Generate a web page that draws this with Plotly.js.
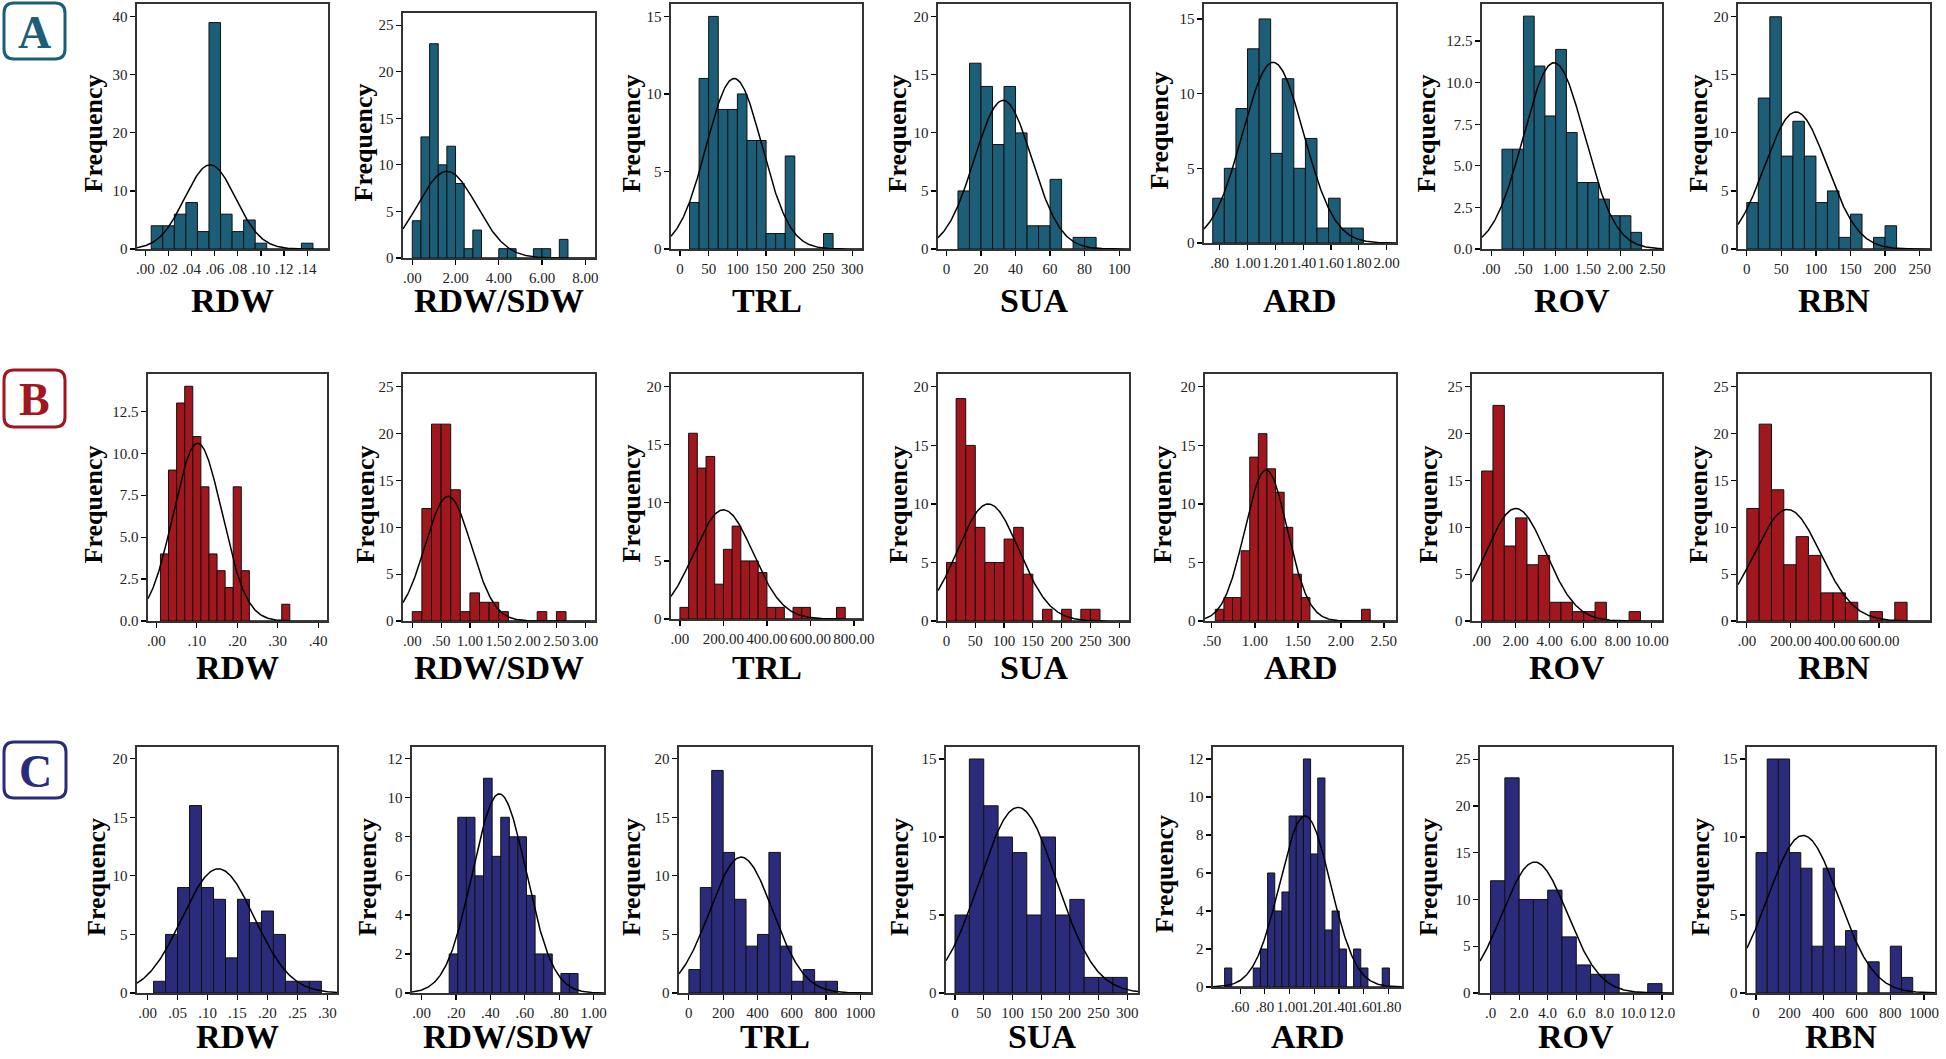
<!DOCTYPE html>
<html><head><meta charset="utf-8">
<script src="https://cdn.plot.ly/plotly-3.0.1.min.js"></script>
<style>html,body{margin:0;padding:0;background:#fff;}#chart{width:1946px;height:1059px;}</style>
</head><body><div id="chart"></div>
<script>
// ---------------- DATA ----------------
const variables = ['RDW', 'RDW/SDW', 'TRL', 'SUA', 'ARD', 'ROV', 'RBN'];
const groupLabels = ['A', 'B', 'C'];

// Group A: bin counts per variable
const countsA = [
  [4, 4, 6, 8, 3, 39, 6, 3, 5, 1, 0, 0, 0, 1],
  [4, 13, 23, 10, 12, 8, 1, 3, 0, 0, 1, 1, 0, 0, 1, 1, 0, 2],
  [3, 11, 15, 9, 9, 10, 7, 7, 1, 1, 6, 0, 0, 0, 1],
  [5, 16, 14, 9, 14, 10, 2, 2, 6, 0, 1, 1],
  [3, 5, 9, 13, 15, 6, 11, 5, 7, 1, 3, 1, 1],
  [6, 6, 14, 11, 8, 12, 7, 4, 4, 3, 2, 2, 1],
  [4, 13, 20, 8, 11, 8, 4, 5, 1, 3, 0, 1, 2]
];
const binStartA = [0.005, 0, 16.667, 6.667, 0.75, 0.1667, 0];
const binWidthA = [0.01, 0.4, 16.667, 6.667, 0.0833, 0.1667, 16.667];
const curveMeanA = [0.056, 1.6, 94.4, 32.8, 1.184, 0.974, 71];
const curvePeakA = [14.5, 9.3, 11.0, 12.8, 12.1, 11.2, 11.8];
const xTickValsA = [
  [0, 0.02, 0.04, 0.06, 0.08, 0.10, 0.12, 0.14],
  [0, 2, 4, 6, 8],
  [0, 50, 100, 150, 200, 250, 300],
  [0, 20, 40, 60, 80, 100],
  [0.8, 1.0, 1.2, 1.4, 1.6, 1.8, 2.0],
  [0, 0.5, 1.0, 1.5, 2.0, 2.5],
  [0, 50, 100, 150, 200, 250]
];
const xTickTextA = [
  ['.00', '.02', '.04', '.06', '.08', '.10', '.12', '.14'],
  ['.00', '2.00', '4.00', '6.00', '8.00'],
  ['0', '50', '100', '150', '200', '250', '300'],
  ['0', '20', '40', '60', '80', '100'],
  ['.80', '1.00', '1.20', '1.40', '1.60', '1.80', '2.00'],
  ['.00', '.50', '1.00', '1.50', '2.00', '2.50'],
  ['0', '50', '100', '150', '200', '250']
];

// Group B
const countsB = [
  [4, 9, 13, 14, 11, 8, 4, 3, 2, 8, 3, 0, 0, 0, 0, 1],
  [1, 12, 21, 21, 14, 1, 3, 2, 2, 1, 0, 0, 0, 1, 0, 1],
  [1, 16, 13, 14, 3, 6, 8, 5, 5, 4, 1, 1, 0, 1, 1, 0, 0, 0, 1],
  [5, 19, 15, 8, 5, 5, 7, 8, 4, 0, 1, 0, 1, 0, 1, 1],
  [1, 2, 2, 6, 14, 16, 13, 11, 8, 4, 2, 0, 0, 0, 0, 0, 0, 1],
  [16, 23, 8, 11, 6, 7, 2, 2, 1, 1, 2, 0, 0, 1],
  [12, 21, 14, 6, 9, 7, 3, 3, 2, 0, 1, 0, 2]
];
const binStartB = [0.01, 0, 0, 0, 0.54, 0, 0];
const binWidthB = [0.02, 0.1667, 40, 16.667, 0.1, 0.6667, 56];
const curveMeanB = [0.102, 0.622, 200, 72.6, 1.13, 2.01, 185];
const curvePeakB = [10.6, 13.3, 9.4, 10.0, 12.9, 12.0, 11.9];
const xTickValsB = [
  [0, 0.1, 0.2, 0.3, 0.4],
  [0, 0.5, 1.0, 1.5, 2.0, 2.5, 3.0],
  [0, 200, 400, 600, 800],
  [0, 50, 100, 150, 200, 250, 300],
  [0.5, 1.0, 1.5, 2.0, 2.5],
  [0, 2, 4, 6, 8, 10],
  [0, 200, 400, 600]
];
const xTickTextB = [
  ['.00', '.10', '.20', '.30', '.40'],
  ['.00', '.50', '1.00', '1.50', '2.00', '2.50', '3.00'],
  ['.00', '200.00', '400.00', '600.00', '800.00'],
  ['0', '50', '100', '150', '200', '250', '300'],
  ['.50', '1.00', '1.50', '2.00', '2.50'],
  ['.00', '2.00', '4.00', '6.00', '8.00', '10.00'],
  ['.00', '200.00', '400.00', '600.00']
];

// Group C
const countsC = [
  [1, 5, 9, 16, 9, 8, 3, 8, 6, 7, 5, 1, 1, 1],
  [2, 9, 9, 6, 11, 7, 9, 8, 8, 5, 2, 2, 0, 1, 1],
  [2, 9, 19, 12, 8, 4, 5, 12, 4, 1, 2, 1, 1],
  [5, 15, 12, 10, 9, 5, 10, 5, 6, 1, 1, 1],
  [1, 0, 0, 0, 1, 2, 6, 4, 5, 9, 9, 12, 7, 11, 3, 4, 2, 0, 2, 1, 0, 0, 1],
  [12, 23, 10, 10, 11, 6, 3, 2, 2, 0, 0, 1],
  [9, 15, 15, 9, 8, 3, 8, 3, 4, 0, 2, 0, 3, 1]
];
const binStartC = [0.01, 0.16, 0, 0, 0.474, 0, 0];
const binWidthC = [0.02, 0.05, 66.667, 25, 0.058, 1, 66.667];
const curveMeanC = [0.118, 0.452, 305, 109.7, 1.125, 3.09, 280];
const curvePeakC = [10.6, 10.2, 11.6, 11.9, 9.0, 14.0, 10.1];
const xTickValsC = [
  [0, 0.05, 0.10, 0.15, 0.20, 0.25, 0.30],
  [0, 0.2, 0.4, 0.6, 0.8, 1.0],
  [0, 200, 400, 600, 800, 1000],
  [0, 50, 100, 150, 200, 250, 300],
  [0.6, 0.8, 1.0, 1.2, 1.4, 1.6, 1.8],
  [0, 2, 4, 6, 8, 10, 12],
  [0, 200, 400, 600, 800, 1000]
];
const xTickTextC = [
  ['.00', '.05', '.10', '.15', '.20', '.25', '.30'],
  ['.00', '.20', '.40', '.60', '.80', '1.00'],
  ['0', '200', '400', '600', '800', '1000'],
  ['0', '50', '100', '150', '200', '250', '300'],
  ['.60', '.80', '1.00', '1.20', '1.40', '1.60', '1.80'],
  ['.0', '2.0', '4.0', '6.0', '8.0', '10.0', '12.0'],
  ['0', '200', '400', '600', '800', '1000']
];

// ---------------- LAYOUT / STYLE ----------------
const W = 1946, H = 1059;
const groupColors = ['#1c5e77', '#a1171d', '#2a2b7b'];

// panel frames in px: [left, right, top, bottom]
const framesPx = [
  [[137, 328, 4, 249], [403, 595, 13, 258], [671, 862, 4, 249], [938, 1129, 4, 249], [1204, 1396, 4, 243], [1482, 1662, 4, 249], [1738, 1930, 4, 249]],
  [[148, 327, 374, 621], [403, 595, 374, 621], [671, 862, 374, 619], [938, 1129, 374, 621], [1205, 1396, 374, 621], [1472, 1662, 374, 621], [1738, 1930, 374, 621]],
  [[137, 337, 747, 993], [412, 604, 747, 993], [679, 871, 747, 993], [946, 1138, 747, 993], [1213, 1402, 747, 987], [1480, 1672, 747, 993], [1747, 1935, 747, 993]]
];
const xRanges = [
  [[-0.0073, 0.158], [-0.43, 8.45], [-15.6, 317], [-4.9, 105.7], [0.687, 2.068], [-0.143, 2.65], [-12.7, 265]],
  [[-0.0208, 0.422], [-0.161, 3.17], [-41, 837], [-14.8, 317], [0.42, 2.64], [-0.565, 10.6], [-40, 832]],
  [[-0.0176, 0.316], [-0.0565, 1.061], [-57.5, 1062], [-15.7, 318.7], [0.38, 1.91], [-0.74, 12.7], [-53.7, 1066]]
];
const yTops = [
  [42.2, 26.3, 15.8, 21.1, 16.0, 14.73, 21.1],
  [14.73, 26.35, 21.1, 21.1, 21.1, 26.35, 26.35],
  [21.0, 12.6, 21.0, 15.77, 12.63, 26.3, 15.77]
];
const yDticks = [
  [10, 5, 5, 5, 5, 2.5, 5],
  [2.5, 5, 5, 5, 5, 5, 5],
  [5, 2, 5, 5, 2, 5, 5]
];
const freqOffsets = [
  [44, 40, 40, 41, 45, 56, 40],
  [55, 38, 40, 40, 43, 44, 40],
  [41, 45, 48, 47, 49, 52, 47]
];
const titleY = [300, 667, 1036];
const badgesPx = [[4, 65, 3, 59], [4, 65, 370, 427], [4, 66, 742, 798]];

const allCounts = [countsA, countsB, countsC];
const allStart = [binStartA, binStartB, binStartC];
const allWidth = [binWidthA, binWidthB, binWidthC];
const allMean = [curveMeanA, curveMeanB, curveMeanC];
const allPeak = [curvePeakA, curvePeakB, curvePeakC];
const allTickVals = [xTickValsA, xTickValsB, xTickValsC];
const allTickText = [xTickTextA, xTickTextB, xTickTextC];

const px2x = p => p / W;
const px2y = p => 1 - p / H;

const traces = [];
const layout = {
  width: W, height: H,
  margin: {l: 0, r: 0, t: 0, b: 0},
  paper_bgcolor: '#fff', plot_bgcolor: '#fff',
  showlegend: false, bargap: 0,
  annotations: [], shapes: []
};
const tickFont = {family: 'Liberation Serif, Times New Roman, serif', size: 15, color: '#222'};
const boldSerif = 'Liberation Serif, Times New Roman, serif';

let k = 0;
for (let g = 0; g < 3; g++) {
  for (let v = 0; v < 7; v++) {
    k++;
    const xid = k === 1 ? 'x' : 'x' + k;
    const yid = k === 1 ? 'y' : 'y' + k;
    const xkey = k === 1 ? 'xaxis' : 'xaxis' + k;
    const ykey = k === 1 ? 'yaxis' : 'yaxis' + k;
    const counts = allCounts[g][v];
    const start = allStart[g][v];
    const bw = allWidth[g][v];
    const fr = framesPx[g][v];
    const xr = xRanges[g][v];

    traces.push({
      type: 'bar', xaxis: xid, yaxis: yid,
      x: counts.map((_, i) => start + bw * (i + 0.5)),
      y: counts, width: bw,
      marker: {color: groupColors[g], line: {color: '#111', width: 1}},
      hoverinfo: 'x+y'
    });

    // fitted normal curve
    const n = counts.reduce((a, b) => a + b, 0);
    const peak = allPeak[g][v];
    const mean = allMean[g][v];
    const sd = n * bw / (peak * Math.sqrt(2 * Math.PI));
    const cx = [], cy = [];
    const steps = 300;
    for (let i = 0; i <= steps; i++) {
      const xv = xr[0] + (xr[1] - xr[0]) * i / steps;
      cx.push(xv);
      cy.push(peak * Math.exp(-0.5 * Math.pow((xv - mean) / sd, 2)));
    }
    traces.push({
      type: 'scatter', mode: 'lines', xaxis: xid, yaxis: yid,
      x: cx, y: cy, line: {color: '#000', width: 1.5}, hoverinfo: 'skip'
    });

    layout[xkey] = {
      domain: [px2x(fr[0]), px2x(fr[1])], range: xr, anchor: yid,
      tickmode: 'array', tickvals: allTickVals[g][v], ticktext: allTickText[g][v],
      tickangle: 0,
      ticks: 'outside', ticklen: 5, tickwidth: 1.2, tickcolor: '#000',
      showline: true, linecolor: '#333', linewidth: 1.6, mirror: true,
      showgrid: false, zeroline: false, tickfont: tickFont, fixedrange: true
    };
    layout[ykey] = {
      domain: [px2y(fr[3]), px2y(fr[2])], range: [0, yTops[g][v]], anchor: xid,
      tick0: 0, dtick: yDticks[g][v], tickformat: (yDticks[g][v] === 2.5 ? '.1f' : 'd'),
      ticks: 'outside', ticklen: 5, tickwidth: 1.2, tickcolor: '#000',
      showline: true, linecolor: '#333', linewidth: 1.6, mirror: true,
      showgrid: false, zeroline: false, tickfont: tickFont, fixedrange: true
    };

    // variable title
    layout.annotations.push({
      xref: 'paper', yref: 'paper',
      x: px2x((fr[0] + fr[1]) / 2), y: px2y(titleY[g]),
      xanchor: 'center', yanchor: 'middle', showarrow: false,
      text: '<b>' + variables[v] + '</b>',
      font: {family: boldSerif, size: 34, color: '#000'}
    });
    // Frequency label
    layout.annotations.push({
      xref: 'paper', yref: 'paper',
      x: px2x(fr[0] - freqOffsets[g][v]), y: px2y((fr[2] + fr[3]) / 2 + 7),
      xanchor: 'center', yanchor: 'middle', showarrow: false, textangle: -90,
      text: '<b>Frequency</b>',
      font: {family: boldSerif, size: 26, color: '#000'}
    });
  }

  // group badge
  const b = badgesPx[g];
  const r = 10;
  const X = p => px2x(p), Y = p => px2y(p);
  const path = `M ${X(b[0] + r)} ${Y(b[2])} L ${X(b[1] - r)} ${Y(b[2])} Q ${X(b[1])} ${Y(b[2])} ${X(b[1])} ${Y(b[2] + r)} ` +
    `L ${X(b[1])} ${Y(b[3] - r)} Q ${X(b[1])} ${Y(b[3])} ${X(b[1] - r)} ${Y(b[3])} ` +
    `L ${X(b[0] + r)} ${Y(b[3])} Q ${X(b[0])} ${Y(b[3])} ${X(b[0])} ${Y(b[3] - r)} ` +
    `L ${X(b[0])} ${Y(b[2] + r)} Q ${X(b[0])} ${Y(b[2])} ${X(b[0] + r)} ${Y(b[2])} Z`;
  layout.shapes.push({
    type: 'path', xref: 'paper', yref: 'paper', path: path,
    line: {color: groupColors[g], width: 3}, fillcolor: '#fff'
  });
  layout.annotations.push({
    xref: 'paper', yref: 'paper',
    x: px2x((b[0] + b[1]) / 2), y: px2y((b[2] + b[3]) / 2 + 1),
    xanchor: 'center', yanchor: 'middle', showarrow: false,
    text: '<b>' + groupLabels[g] + '</b>',
    font: {family: boldSerif, size: 46, color: groupColors[g]}
  });
}

Plotly.newPlot('chart', traces, layout, {displayModeBar: false, staticPlot: true});
</script>
</body></html>
